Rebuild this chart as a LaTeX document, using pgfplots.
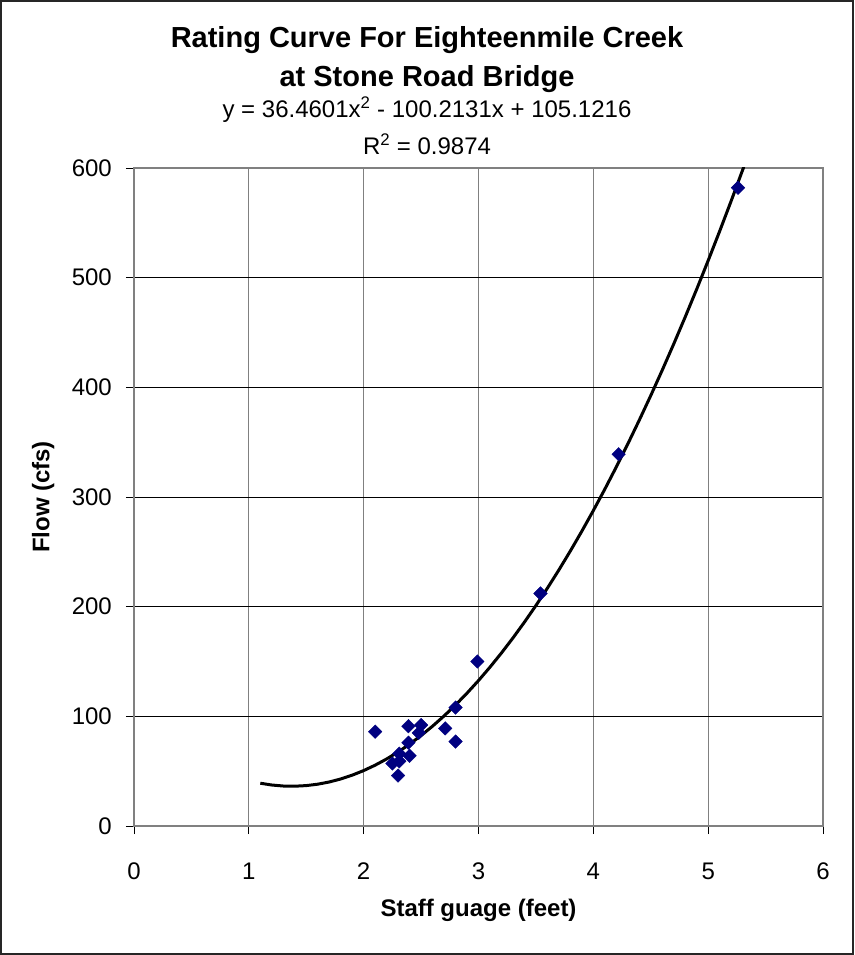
\documentclass[border=0pt]{standalone}
\usepackage{pgfplots}
\pgfplotsset{compat=1.18}
\usepackage{fontspec}
\setmainfont{Liberation Sans}
\definecolor{navy}{RGB}{0,0,128}
\definecolor{frame}{RGB}{128,128,128}
\begin{document}
\begin{tikzpicture}[x=1pt,y=1pt]
\path[use as bounding box] (0,0) rectangle (854,955);
\draw[line width=2pt, black!85] (1,1) rectangle (853,954);
% chart title and trendline label (centred on the chart area)
\node[anchor=base, font=\fontsize{29}{34}\selectfont\bfseries] at (427,907) {Rating Curve For Eighteenmile Creek};
\node[anchor=base, font=\fontsize{29}{34}\selectfont\bfseries] at (427,868) {at Stone Road Bridge};
\node[anchor=base, font=\fontsize{24}{28}\selectfont] at (427,837) {y = 36.4601x\textsuperscript{2} - 100.2131x + 105.1216};
\node[anchor=base, font=\fontsize{24}{28}\selectfont] at (427,800) {R\textsuperscript{2} = 0.9874};
\begin{axis}[
    at={(134pt,129pt)}, anchor=south west,
    width=689pt, height=658pt, scale only axis,
    xmin=0, xmax=6, ymin=0, ymax=600,
    xtick={0,1,...,6}, ytick={0,100,...,600},
    xtick pos=left, ytick pos=left,
    tick align=outside, major tick length=8pt,
    tick style={black, line width=0.8pt},
    axis line style={frame, line width=1.5pt},
    grid=major,
    x grid style={frame, line width=0.8pt},
    y grid style={black, line width=0.8pt},
    /pgf/number format/assume math mode=true,
    ticklabel style={font=\fontsize{24}{28}\selectfont},
    xticklabel style={anchor=center, yshift=-37pt},
    yticklabel style={anchor=east, inner sep=0pt, xshift=-14pt},
    xlabel={Staff guage (feet)},
    ylabel={Flow (cfs)},
    label style={font=\fontsize{24}{28}\selectfont\bfseries},
    xlabel style={at={(axis description cs:0.5,-0.1277)}, anchor=center},
    ylabel style={at={(axis description cs:-0.132,0.5)}, anchor=center},
]
% observed staff gauge vs flow
\addplot[only marks, mark=square*, mark size=4.8pt, mark options={rotate=45}, color=navy] coordinates {
  (2.10,86) (2.39,91) (2.50,92) (2.48,85) (2.80,108) (2.71,89)
  (2.80,77) (2.39,76) (2.40,64) (2.31,66) (2.25,57) (2.31,59)
  (2.30,46) (2.99,150) (3.54,212) (4.22,339) (5.26,582)
};
% polynomial trendline, values read at 0.1 ft steps
\addplot[black, line width=3pt, line join=round] coordinates {
  (1.1,39.00) (1.2,37.37) (1.3,36.46) (1.4,36.29) (1.5,36.84)
  (1.6,38.12) (1.7,40.13) (1.8,42.87) (1.9,46.34) (2.0,50.54)
  (2.1,55.46) (2.2,61.12) (2.3,67.51) (2.4,74.62) (2.5,82.47)
  (2.6,91.04) (2.7,100.34) (2.8,110.37) (2.9,121.13) (3.0,132.62)
  (3.1,144.84) (3.2,157.79) (3.3,171.47) (3.4,185.88) (3.5,201.01)
  (3.6,216.88) (3.7,233.47) (3.8,250.80) (3.9,268.85) (4.0,287.63)
  (4.1,307.14) (4.2,327.38) (4.3,348.35) (4.4,370.05) (4.5,392.48)
  (4.6,415.64) (4.7,439.52) (4.8,464.14) (4.9,489.48) (5.0,515.56)
  (5.1,542.36) (5.2,569.89) (5.3,598.16) (5.31,601.02)
};
\end{axis}
\end{tikzpicture}
\end{document}
